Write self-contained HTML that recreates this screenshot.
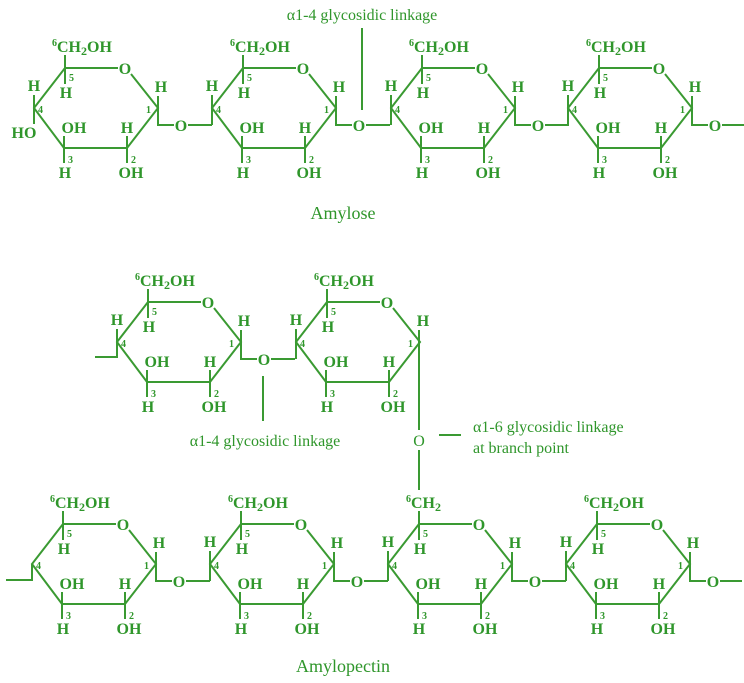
<!DOCTYPE html>
<html><head><meta charset="utf-8"><style>
html,body{margin:0;padding:0;background:#fff;width:744px;height:683px;overflow:hidden}
svg{display:block}
text{font-family:"Liberation Serif",serif;fill:#2f962b}
.a{font-size:16px;font-weight:bold;text-anchor:middle}
.n{font-size:10px;font-weight:bold}
.l{font-size:16px}
line,polyline{stroke:#3a9a32;stroke-width:2;fill:none}
</style></head><body>
<svg width="744" height="683" viewBox="0 0 744 683">
<!-- AMYLOSE -->
<text class="l" x="362" y="20" text-anchor="middle">α1-4 glycosidic linkage</text>
<line x1="362" y1="28" x2="362" y2="110"/>
<text x="343" y="219" text-anchor="middle" style="font-size:18px">Amylose</text>

<!-- ring 1 -->
<g transform="translate(0,0)">
<polyline points="118,68 65,68 34,108 64,148 127,148 158,108 131,74"/>
<line x1="65" y1="55" x2="65" y2="84"/><line x1="64" y1="136" x2="64" y2="163"/><line x1="127" y1="136" x2="127" y2="163"/>
<line x1="34" y1="95" x2="34" y2="124"/>
<polyline points="158,96 158,125 174,125"/><line x1="188" y1="125" x2="212" y2="125"/>
<text class="a" x="181" y="131">O</text>
<text x="52" y="52" class="a" style="text-anchor:start"><tspan class="n" dy="-6">6</tspan><tspan dy="6">CH</tspan><tspan dy="3" style="font-size:12px">2</tspan><tspan dy="-3">OH</tspan></text>
<text class="a" x="125" y="74">O</text><text class="a" x="66" y="98">H</text><text class="n" x="69" y="81">5</text>
<text class="a" x="34" y="91">H</text><text class="a" x="24" y="138">HO</text>
<text class="a" x="74" y="133">OH</text><text class="a" x="127" y="133">H</text>
<text class="a" x="65" y="178">H</text><text class="a" x="131" y="178">OH</text>
<text class="n" x="68" y="163">3</text><text class="n" x="131" y="163">2</text><text class="n" x="146" y="113">1</text><text class="n" x="38" y="113">4</text>
<text class="a" x="161" y="92">H</text>
</g>

<!-- generic amylose rings 2-4 -->
<g transform="translate(178,0)">
<polyline points="118,68 65,68 34,108 64,148 127,148 158,108 131,74"/>
<line x1="65" y1="55" x2="65" y2="84"/><line x1="64" y1="136" x2="64" y2="163"/><line x1="127" y1="136" x2="127" y2="163"/>
<line x1="34" y1="95" x2="34" y2="125"/>
<polyline points="158,96 158,125 174,125"/><line x1="188" y1="125" x2="212" y2="125"/>
<text class="a" x="181" y="131">O</text>
<text x="52" y="52" class="a" style="text-anchor:start"><tspan class="n" dy="-6">6</tspan><tspan dy="6">CH</tspan><tspan dy="3" style="font-size:12px">2</tspan><tspan dy="-3">OH</tspan></text>
<text class="a" x="125" y="74">O</text><text class="a" x="66" y="98">H</text><text class="n" x="69" y="81">5</text>
<text class="a" x="34" y="91">H</text>
<text class="a" x="74" y="133">OH</text><text class="a" x="127" y="133">H</text>
<text class="a" x="65" y="178">H</text><text class="a" x="131" y="178">OH</text>
<text class="n" x="68" y="163">3</text><text class="n" x="131" y="163">2</text><text class="n" x="146" y="113">1</text><text class="n" x="38" y="113">4</text>
<text class="a" x="161" y="92">H</text>
</g>
<g transform="translate(357,0)">
<polyline points="118,68 65,68 34,108 64,148 127,148 158,108 131,74"/>
<line x1="65" y1="55" x2="65" y2="84"/><line x1="64" y1="136" x2="64" y2="163"/><line x1="127" y1="136" x2="127" y2="163"/>
<line x1="34" y1="95" x2="34" y2="125"/>
<polyline points="158,96 158,125 174,125"/><line x1="188" y1="125" x2="212" y2="125"/>
<text class="a" x="181" y="131">O</text>
<text x="52" y="52" class="a" style="text-anchor:start"><tspan class="n" dy="-6">6</tspan><tspan dy="6">CH</tspan><tspan dy="3" style="font-size:12px">2</tspan><tspan dy="-3">OH</tspan></text>
<text class="a" x="125" y="74">O</text><text class="a" x="66" y="98">H</text><text class="n" x="69" y="81">5</text>
<text class="a" x="34" y="91">H</text>
<text class="a" x="74" y="133">OH</text><text class="a" x="127" y="133">H</text>
<text class="a" x="65" y="178">H</text><text class="a" x="131" y="178">OH</text>
<text class="n" x="68" y="163">3</text><text class="n" x="131" y="163">2</text><text class="n" x="146" y="113">1</text><text class="n" x="38" y="113">4</text>
<text class="a" x="161" y="92">H</text>
</g>
<g transform="translate(534,0)">
<polyline points="118,68 65,68 34,108 64,148 127,148 158,108 131,74"/>
<line x1="65" y1="55" x2="65" y2="84"/><line x1="64" y1="136" x2="64" y2="163"/><line x1="127" y1="136" x2="127" y2="163"/>
<line x1="34" y1="95" x2="34" y2="125"/>
<polyline points="158,96 158,125 174,125"/><line x1="188" y1="125" x2="210" y2="125"/>
<text class="a" x="181" y="131">O</text>
<text x="52" y="52" class="a" style="text-anchor:start"><tspan class="n" dy="-6">6</tspan><tspan dy="6">CH</tspan><tspan dy="3" style="font-size:12px">2</tspan><tspan dy="-3">OH</tspan></text>
<text class="a" x="125" y="74">O</text><text class="a" x="66" y="98">H</text><text class="n" x="69" y="81">5</text>
<text class="a" x="34" y="91">H</text>
<text class="a" x="74" y="133">OH</text><text class="a" x="127" y="133">H</text>
<text class="a" x="65" y="178">H</text><text class="a" x="131" y="178">OH</text>
<text class="n" x="68" y="163">3</text><text class="n" x="131" y="163">2</text><text class="n" x="146" y="113">1</text><text class="n" x="38" y="113">4</text>
<text class="a" x="161" y="92">H</text>
</g>

<!-- AMYLOPECTIN branch -->
<g transform="translate(83,234)">
<polyline points="118,68 65,68 34,108 64,148 127,148 158,108 131,74"/>
<line x1="65" y1="55" x2="65" y2="84"/><line x1="64" y1="136" x2="64" y2="163"/><line x1="127" y1="136" x2="127" y2="163"/>
<polyline points="34,95 34,123 12,123"/>
<polyline points="158,96 158,125 174,125"/><line x1="188" y1="125" x2="212" y2="125"/>
<text class="a" x="181" y="131">O</text>
<text x="52" y="52" class="a" style="text-anchor:start"><tspan class="n" dy="-6">6</tspan><tspan dy="6">CH</tspan><tspan dy="3" style="font-size:12px">2</tspan><tspan dy="-3">OH</tspan></text>
<text class="a" x="125" y="74">O</text><text class="a" x="66" y="98">H</text><text class="n" x="69" y="81">5</text>
<text class="a" x="34" y="91">H</text>
<text class="a" x="74" y="133">OH</text><text class="a" x="127" y="133">H</text>
<text class="a" x="65" y="178">H</text><text class="a" x="131" y="178">OH</text>
<text class="n" x="68" y="163">3</text><text class="n" x="131" y="163">2</text><text class="n" x="146" y="113">1</text><text class="n" x="38" y="113">4</text>
<text class="a" x="161" y="92">H</text>
</g>
<g transform="translate(262,234)">
<polyline points="118,68 65,68 34,108 64,148 127,148 158,108 131,74"/>
<line x1="65" y1="55" x2="65" y2="84"/><line x1="64" y1="136" x2="64" y2="163"/><line x1="127" y1="136" x2="127" y2="163"/>
<line x1="34" y1="95" x2="34" y2="125"/>
<line x1="157" y1="96" x2="157" y2="196"/>
<text x="52" y="52" class="a" style="text-anchor:start"><tspan class="n" dy="-6">6</tspan><tspan dy="6">CH</tspan><tspan dy="3" style="font-size:12px">2</tspan><tspan dy="-3">OH</tspan></text>
<text class="a" x="125" y="74">O</text><text class="a" x="66" y="98">H</text><text class="n" x="69" y="81">5</text>
<text class="a" x="34" y="91">H</text>
<text class="a" x="74" y="133">OH</text><text class="a" x="127" y="133">H</text>
<text class="a" x="65" y="178">H</text><text class="a" x="131" y="178">OH</text>
<text class="n" x="68" y="163">3</text><text class="n" x="131" y="163">2</text><text class="n" x="146" y="113">1</text><text class="n" x="38" y="113">4</text>
<text class="a" x="161" y="92">H</text>
</g>
<text class="a" x="419" y="446" style="font-weight:normal">O</text>
<line x1="419" y1="450" x2="419" y2="490"/>
<line x1="439" y1="435" x2="461" y2="435"/>
<text class="l" x="473" y="432">α1-6 glycosidic linkage</text>
<text class="l" x="473" y="453">at branch point</text>
<line x1="263" y1="376" x2="263" y2="421"/>
<text class="l" x="265" y="446" text-anchor="middle">α1-4 glycosidic linkage</text>

<!-- bottom row -->
<g transform="translate(-2,456)">
<polyline points="118,68 65,68 34,108 64,148 127,148 158,108 131,74"/>
<line x1="65" y1="55" x2="65" y2="84"/><line x1="64" y1="136" x2="64" y2="163"/><line x1="127" y1="136" x2="127" y2="163"/>
<polyline points="34,108 34,124 8,124"/>
<polyline points="158,96 158,125 174,125"/><line x1="188" y1="125" x2="212" y2="125"/>
<text class="a" x="181" y="131">O</text>
<text x="52" y="52" class="a" style="text-anchor:start"><tspan class="n" dy="-6">6</tspan><tspan dy="6">CH</tspan><tspan dy="3" style="font-size:12px">2</tspan><tspan dy="-3">OH</tspan></text>
<text class="a" x="125" y="74">O</text><text class="a" x="66" y="98">H</text><text class="n" x="69" y="81">5</text>
<text class="a" x="74" y="133">OH</text><text class="a" x="127" y="133">H</text>
<text class="a" x="65" y="178">H</text><text class="a" x="131" y="178">OH</text>
<text class="n" x="68" y="163">3</text><text class="n" x="131" y="163">2</text><text class="n" x="146" y="113">1</text><text class="n" x="38" y="113">4</text>
<text class="a" x="161" y="92">H</text>
</g>
<g transform="translate(176,456)">
<polyline points="118,68 65,68 34,108 64,148 127,148 158,108 131,74"/>
<line x1="65" y1="55" x2="65" y2="84"/><line x1="64" y1="136" x2="64" y2="163"/><line x1="127" y1="136" x2="127" y2="163"/>
<line x1="34" y1="95" x2="34" y2="125"/>
<polyline points="158,96 158,125 174,125"/><line x1="188" y1="125" x2="212" y2="125"/>
<text class="a" x="181" y="131">O</text>
<text x="52" y="52" class="a" style="text-anchor:start"><tspan class="n" dy="-6">6</tspan><tspan dy="6">CH</tspan><tspan dy="3" style="font-size:12px">2</tspan><tspan dy="-3">OH</tspan></text>
<text class="a" x="125" y="74">O</text><text class="a" x="66" y="98">H</text><text class="n" x="69" y="81">5</text>
<text class="a" x="34" y="91">H</text>
<text class="a" x="74" y="133">OH</text><text class="a" x="127" y="133">H</text>
<text class="a" x="65" y="178">H</text><text class="a" x="131" y="178">OH</text>
<text class="n" x="68" y="163">3</text><text class="n" x="131" y="163">2</text><text class="n" x="146" y="113">1</text><text class="n" x="38" y="113">4</text>
<text class="a" x="161" y="92">H</text>
</g>
<g transform="translate(354,456)">
<polyline points="118,68 65,68 34,108 64,148 127,148 158,108 131,74"/>
<line x1="65" y1="55" x2="65" y2="84"/><line x1="64" y1="136" x2="64" y2="163"/><line x1="127" y1="136" x2="127" y2="163"/>
<line x1="34" y1="95" x2="34" y2="125"/>
<polyline points="158,96 158,125 174,125"/><line x1="188" y1="125" x2="212" y2="125"/>
<text class="a" x="181" y="131">O</text>
<text x="52" y="52" class="a" style="text-anchor:start"><tspan class="n" dy="-6">6</tspan><tspan dy="6">CH</tspan><tspan dy="3" style="font-size:12px">2</tspan></text>
<text class="a" x="125" y="74">O</text><text class="a" x="66" y="98">H</text><text class="n" x="69" y="81">5</text>
<text class="a" x="34" y="91">H</text>
<text class="a" x="74" y="133">OH</text><text class="a" x="127" y="133">H</text>
<text class="a" x="65" y="178">H</text><text class="a" x="131" y="178">OH</text>
<text class="n" x="68" y="163">3</text><text class="n" x="131" y="163">2</text><text class="n" x="146" y="113">1</text><text class="n" x="38" y="113">4</text>
<text class="a" x="161" y="92">H</text>
</g>
<g transform="translate(532,456)">
<polyline points="118,68 65,68 34,108 64,148 127,148 158,108 131,74"/>
<line x1="65" y1="55" x2="65" y2="84"/><line x1="64" y1="136" x2="64" y2="163"/><line x1="127" y1="136" x2="127" y2="163"/>
<line x1="34" y1="95" x2="34" y2="125"/>
<polyline points="158,96 158,125 174,125"/><line x1="188" y1="125" x2="210" y2="125"/>
<text class="a" x="181" y="131">O</text>
<text x="52" y="52" class="a" style="text-anchor:start"><tspan class="n" dy="-6">6</tspan><tspan dy="6">CH</tspan><tspan dy="3" style="font-size:12px">2</tspan><tspan dy="-3">OH</tspan></text>
<text class="a" x="125" y="74">O</text><text class="a" x="66" y="98">H</text><text class="n" x="69" y="81">5</text>
<text class="a" x="34" y="91">H</text>
<text class="a" x="74" y="133">OH</text><text class="a" x="127" y="133">H</text>
<text class="a" x="65" y="178">H</text><text class="a" x="131" y="178">OH</text>
<text class="n" x="68" y="163">3</text><text class="n" x="131" y="163">2</text><text class="n" x="146" y="113">1</text><text class="n" x="38" y="113">4</text>
<text class="a" x="161" y="92">H</text>
</g>
<text x="343" y="672" text-anchor="middle" style="font-size:18px">Amylopectin</text>
</svg>
</body></html>
